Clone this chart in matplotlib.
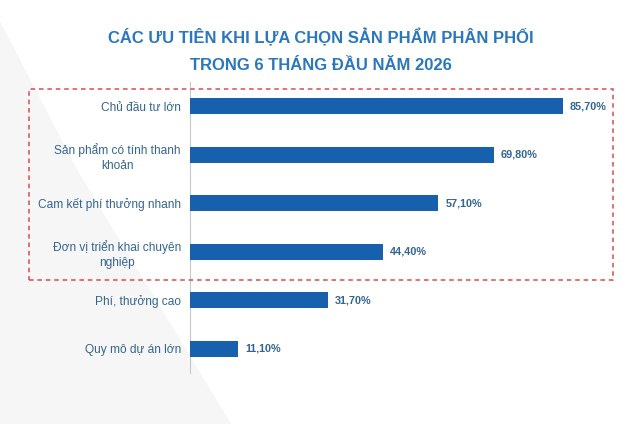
import matplotlib
matplotlib.use("Agg")
import matplotlib.pyplot as plt
from matplotlib import font_manager
from matplotlib.patches import Rectangle, Polygon

# data
categories = [
    "Chủ đầu tư lớn",
    "Sản phẩm có tính thanh\nkhoản",
    "Cam kết phí thưởng nhanh",
    "Đơn vị triển khai chuyên\nnghiệp",
    "Phí, thưởng cao",
    "Quy mô dự án lớn",
]
values = [85.7, 69.8, 57.1, 44.4, 31.7, 11.1]
value_labels = ["85,70%", "69,80%", "57,10%", "44,40%", "31,70%", "11,10%"]

title_lines = ["CÁC ƯU TIÊN KHI LỰA CHỌN SẢN PHẨM PHÂN PHỐI",
               "TRONG 6 THÁNG ĐẦU NĂM 2026"]

bar_color = "#1660ad"
text_color = "#33658f"
title_color = "#2a78bb"

# narrow font for the title if there is one
try:
    font_manager.findfont("Liberation Sans Narrow", fallback_to_default=False)
    title_font, title_size = "Liberation Sans Narrow", 10.8
except ValueError:
    title_font, title_size = "Liberation Sans", 12.0

fig = plt.figure(figsize=(6.42, 4.24), dpi=100)
fig.patch.set_facecolor("white")

# faint background shape on the left
fig.patches.append(Polygon([(0, 0), (0, 0.95), (0.12, 0.6), (0.36, 0.0)],
                           closed=True, transform=fig.transFigure,
                           facecolor="#f6f6f6", edgecolor="none", zorder=-5))

ax = fig.add_axes([190 / 642, (424 - 373) / 424, 435 / 642, 291 / 424])
ax.set_facecolor("none")

y = list(range(len(categories)))
ax.barh(y, values, height=0.33, color=bar_color, zorder=3)
for yi, v, lab in zip(y, values, value_labels):
    ax.text(v + 1.6, yi, lab, va="center", ha="left", fontsize=7.8,
            fontweight="bold", color=text_color, family="Liberation Sans")

ax.set_yticks(y)
ax.set_yticklabels(categories, fontsize=8.6, color=text_color,
                   family="Liberation Sans", linespacing=1.35,
                   multialignment="center")
ax.tick_params(axis="y", length=0, pad=6.5)
ax.set_xlim(0, 100)
ax.set_ylim(len(categories) - 0.5, -0.5)
ax.set_xticks([])
for s in ["top", "right", "bottom"]:
    ax.spines[s].set_visible(False)
ax.spines["left"].set_color("#c8c8c8")
ax.spines["left"].set_linewidth(0.8)

# title
fig.text(0.5, 1 - 37 / 424, title_lines[0], ha="center", va="center",
         fontsize=title_size, fontweight="bold", color=title_color,
         family=[title_font, "DejaVu Sans"])
fig.text(0.5, 1 - 65 / 424, title_lines[1], ha="center", va="center",
         fontsize=title_size, fontweight="bold", color=title_color,
         family=[title_font, "DejaVu Sans"])

# red dashed highlight box
fig.patches.append(Rectangle((29 / 642, 1 - 280 / 424), (613 - 29) / 642,
                             (280 - 89) / 424, transform=fig.transFigure,
                             fill=False, edgecolor="#dc4a55", linewidth=1.1,
                             linestyle=(0, (3, 2.5)), zorder=5))

fig.savefig("out.png", dpi=100)
